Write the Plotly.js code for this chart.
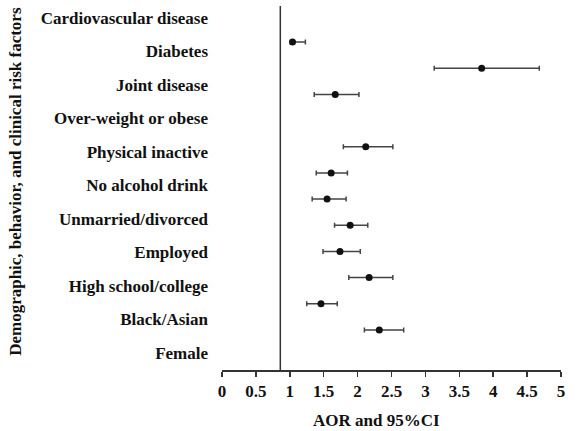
<!DOCTYPE html>
<html>
<head>
<meta charset="utf-8">
<script src="https://cdn.plot.ly/plotly-3.0.1.min.js"></script>
<style>html,body{margin:0;padding:0;background:#fff;}#chart{width:578px;height:431px;}</style>
</head>
<body>
<div id="chart"></div>
<script>
// Row labels (top to bottom)
var categories = ["Cardiovascular disease", "Diabetes", "Joint disease", "Over-weight or obese",
  "Physical inactive", "No alcohol drink", "Unmarried/divorced", "Employed",
  "High school/college", "Black/Asian", "Female"];
// Estimates as drawn (slot index from top, slot 4 is empty in the figure)
var pointSlot = [1, 2, 3, 5, 6, 7, 8, 9, 10, 11, 12];
var aor   = [1.04, 3.83, 1.67, 2.12, 1.61, 1.55, 1.89, 1.74, 2.17, 1.46, 2.32];
var lower = [1.01, 3.13, 1.36, 1.79, 1.39, 1.33, 1.66, 1.49, 1.87, 1.25, 2.10];
var upper = [1.23, 4.68, 2.02, 2.52, 1.85, 1.83, 2.15, 2.04, 2.52, 1.70, 2.68];
var refLine = 0.86;
var xTicks = [0, 0.5, 1, 1.5, 2, 2.5, 3, 3.5, 4, 4.5, 5];

var catIdx = categories.map(function(_, i){ return i; });
var plus = aor.map(function(v, i){ return upper[i] - v; });
var minus = aor.map(function(v, i){ return v - lower[i]; });

var FONT = "Liberation Serif, Times New Roman, serif";

var traces = [
  {
    x: categories.map(function(){ return null; }),
    y: catIdx,
    type: "scatter", mode: "markers",
    hoverinfo: "skip", showlegend: false
  },
  {
    x: aor, y: pointSlot, yaxis: "y2",
    type: "scatter", mode: "markers",
    marker: {color: "#111111", size: 7},
    error_x: {type: "data", symmetric: false, array: plus, arrayminus: minus,
              color: "#444444", thickness: 1.5, width: 2.5},
    showlegend: false
  }
];

var layout = {
  width: 578, height: 431,
  margin: {l: 222, r: 17, t: 2, b: 61},
  paper_bgcolor: "#ffffff", plot_bgcolor: "#ffffff",
  font: {family: FONT, color: "#111111"},
  showlegend: false,
  xaxis: {
    range: [0, 5], tickvals: xTicks, ticktext: xTicks.map(String),
    showgrid: false, zeroline: false,
    showline: true, linecolor: "#333333", linewidth: 1.5,
    ticks: "outside", ticklen: 5, tickwidth: 1.5, tickcolor: "#333333",
    tickfont: {family: FONT, size: 17, weight: "bold", color: "#111111"}
  },
  yaxis: {
    range: [10.507, -0.478],
    tickvals: catIdx, ticktext: categories,
    showgrid: false, zeroline: false, showline: false, ticks: "",
    ticklabelstandoff: 13,
    tickfont: {family: FONT, size: 17, weight: "bold", color: "#111111"}
  },
  yaxis2: {
    overlaying: "y", range: [13.53, -0.53],
    showgrid: false, zeroline: false, showline: false, showticklabels: false, ticks: ""
  },
  shapes: [
    {type: "line", xref: "x", yref: "paper", x0: refLine, x1: refLine, y0: 0, y1: 0.989,
     line: {color: "#333333", width: 1.5}}
  ],
  annotations: [
    {text: "Demographic, behavior, and clinical risk factors", xref: "paper", yref: "paper",
     x: -0.6077, y: 0.514, textangle: -90, showarrow: false,
     xanchor: "center", yanchor: "middle",
     font: {family: FONT, size: 17, weight: "bold", color: "#111111"}},
    {text: "AOR and 95%CI", xref: "paper", yref: "paper",
     x: 0.457, y: -0.136, showarrow: false, xanchor: "center", yanchor: "middle",
     font: {family: FONT, size: 17, weight: "bold", color: "#111111"}}
  ]
};

Plotly.newPlot("chart", traces, layout, {displayModeBar: false, staticPlot: true});
</script>
</body>
</html>
